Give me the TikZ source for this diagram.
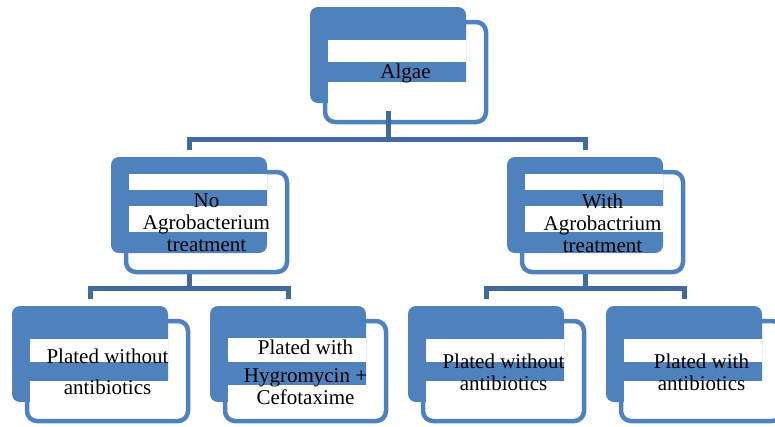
\documentclass[tikz,border=0pt]{standalone}
\usepackage{fontspec}
\setmainfont{Liberation Serif}
\usetikzlibrary{calc}
\definecolor{boxblue}{HTML}{4F81BD}
\definecolor{linkblue}{HTML}{416A9F}
\tikzset{
  backbox/.style={draw=boxblue, line width=4.5pt, fill=white, rounded corners=10pt,
    minimum width=161pt, minimum height=100pt, inner sep=0pt},
  frontbox/.style={fill=boxblue, rounded corners=8pt,
    minimum width=156pt, minimum height=96pt, inner sep=0pt},
  band/.style={fill=white},
  boxtext/.style={font=\fontsize{21}{22}\selectfont, align=center, inner sep=0pt},
  conn/.style={draw=linkblue, line width=5pt, line join=miter}
}
% #1 name, #2 bx, #3 by, #4-#5 first band, #6-#7 second band, #8 text
\newcommand{\mkunit}[8]{%
  \node[backbox] (#1w) at ({#2+95.5},{#3+65}) {};
  \node[frontbox] (#1b) at ({#2+78},{#3+48}) {};
  \fill[band] ({#2+17.5},{#3+#4}) rectangle ({#2+156},{#3+#5});
  \fill[band] ({#2+17.5},{#3+#6}) rectangle ({#2+156.5},{#3+#7});
  \node[boxtext] (#1t) at ({#2+95.5},{#3+66}) {#8};
}
\begin{document}
\begin{tikzpicture}[x=1pt,y=-1pt]
\useasboundingbox (0,0) rectangle (775,426);
\clip (0,0) rectangle (775,426);

\mkunit{alg}{310}{7}{33}{55}{75}{96.5}{Algae}
\mkunit{noa}{111}{157}{17}{33}{49}{75}{No\\Agrobacterium\\treatment}
\mkunit{wia}{507}{157}{17}{33}{49}{75}{With\\Agrobactrium\\treatment}
\mkunit{pa}{12}{306}{33}{56}{75}{96.5}{Plated without\\[9pt]antibiotics}
\mkunit{pb}{210}{306}{32}{56}{79}{96.5}{Plated with\\[6pt]Hygromycin +\\Cefotaxime}
\mkunit{pc}{408}{306}{33}{56}{75}{96.5}{Plated without\\antibiotics}
\mkunit{pd}{606}{306}{33}{56}{75}{96.5}{Plated with\\antibiotics}

\coordinate (bus1) at (0,139);
\coordinate (bus2) at (0,288);

\draw[conn] ($(algb.south)+(0,8)$) -- (algb.south |- bus1);
\draw[conn] ($(noab.north)+(0,-7)$) -- (noab.north |- bus1) -- (wiab.north |- bus1) -- ($(wiab.north)+(0,-7)$);

\draw[conn] (noab.south |- noaw.south) -- (noab.south |- bus2);
\draw[conn] ($(pab.north)+(0,-7)$) -- (pab.north |- bus2) -- (pbb.north |- bus2) -- ($(pbb.north)+(0,-7)$);

\draw[conn] (wiab.south |- wiaw.south) -- (wiab.south |- bus2);
\draw[conn] ($(pcb.north)+(0,-7)$) -- (pcb.north |- bus2) -- (pdb.north |- bus2) -- ($(pdb.north)+(0,-7)$);
\end{tikzpicture}
\end{document}
